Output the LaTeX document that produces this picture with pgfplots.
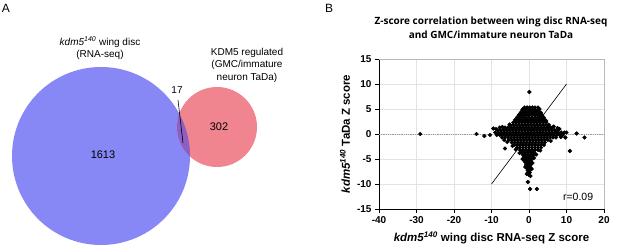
\documentclass[border=0pt]{standalone}
\usepackage{pgfplots}
\pgfplotsset{compat=1.18}
\usepackage{fontspec}
\setmainfont{Liberation Sans}
\newfontfamily\titlefont{Open Sans}
\definecolor{vblue}{RGB}{135,135,245}
\definecolor{vred}{RGB}{240,133,143}
\definecolor{vpurp}{RGB}{140,95,195}
\pgfplotstableread{
x y
-1.2 5.3
-0.5 5.3
0.2 5.3
0.9 5.3
1.6 5.3
2.4 5.3
-1.6 5.0
2.8 5.0
-1.8 4.8
-1.1 4.8
-0.4 4.8
0.3 4.8
1.0 4.8
1.7 4.8
2.4 4.8
-2.2 4.3
-1.5 4.3
-0.8 4.3
-0.1 4.3
0.6 4.3
1.3 4.3
2.0 4.3
2.7 4.3
3.1 4.3
-2.7 3.8
-2.0 3.8
-1.3 3.8
-0.6 3.8
0.1 3.8
0.8 3.8
1.5 3.8
2.2 3.8
2.9 3.8
3.5 3.8
-3.2 3.3
-2.4 3.3
-1.6 3.3
-0.8 3.3
0 3.3
0.8 3.3
1.6 3.3
2.4 3.3
3.2 3.3
3.9 3.3
-3.7 2.8
-2.9 2.8
-2.1 2.8
-1.3 2.8
-0.5 2.8
0.3 2.8
1.1 2.8
1.9 2.8
2.7 2.8
3.5 2.8
4.3 2.8
-4.2 2.3
-3.4 2.3
-2.6 2.3
-1.8 2.3
-1.0 2.3
-0.2 2.3
0.6 2.3
1.4 2.3
2.2 2.3
3.0 2.3
3.8 2.3
4.6 2.3
-5.0 1.8
-4.2 1.8
-3.4 1.8
-2.6 1.8
-1.8 1.8
-1.0 1.8
-0.2 1.8
0.6 1.8
1.4 1.8
2.2 1.8
3.0 1.8
3.8 1.8
4.6 1.8
5.3 1.8
-6.4 1.3
-5.6 1.3
-4.8 1.3
-4.0 1.3
-3.2 1.3
-2.4 1.3
-1.6 1.3
-0.8 1.3
0 1.3
0.8 1.3
1.6 1.3
2.4 1.3
3.2 1.3
4.0 1.3
4.8 1.3
5.6 1.3
6.2 1.3
-8.4 0.8
-7.6 0.8
-6.8 0.8
-6.0 0.8
-5.2 0.8
-4.4 0.8
-3.6 0.8
-2.8 0.8
-2.0 0.8
-1.2 0.8
-0.4 0.8
0.4 0.8
1.2 0.8
2.0 0.8
2.8 0.8
3.6 0.8
4.4 0.8
5.2 0.8
6.0 0.8
6.8 0.8
7.5 0.8
-9.0 0.3
-8.2 0.3
-7.4 0.3
-6.6 0.3
-5.8 0.3
-5.0 0.3
-4.2 0.3
-3.4 0.3
-2.6 0.3
-1.8 0.3
-1.0 0.3
-0.2 0.3
0.6 0.3
1.4 0.3
2.2 0.3
3.0 0.3
3.8 0.3
4.6 0.3
5.4 0.3
6.2 0.3
7.0 0.3
7.8 0.3
8.6 0.3
9.4 0.3
-8.6 -0.2
-7.8 -0.2
-7.0 -0.2
-6.2 -0.2
-5.4 -0.2
-4.6 -0.2
-3.8 -0.2
-3.0 -0.2
-2.2 -0.2
-1.4 -0.2
-0.6 -0.2
0.2 -0.2
1.0 -0.2
1.8 -0.2
2.6 -0.2
3.4 -0.2
4.2 -0.2
5.0 -0.2
5.8 -0.2
6.6 -0.2
7.4 -0.2
8.2 -0.2
9.0 -0.2
-7.2 -0.7
-6.4 -0.7
-5.6 -0.7
-4.8 -0.7
-4.0 -0.7
-3.2 -0.7
-2.4 -0.7
-1.6 -0.7
-0.8 -0.7
0 -0.7
0.8 -0.7
1.6 -0.7
2.4 -0.7
3.2 -0.7
4.0 -0.7
4.8 -0.7
5.6 -0.7
6.4 -0.7
7.2 -0.7
-5.4 -1.2
-4.6 -1.2
-3.8 -1.2
-3.0 -1.2
-2.2 -1.2
-1.4 -1.2
-0.6 -1.2
0.2 -1.2
1.0 -1.2
1.8 -1.2
2.6 -1.2
3.4 -1.2
4.2 -1.2
5.0 -1.2
-4.6 -1.7
-3.8 -1.7
-3.0 -1.7
-2.2 -1.7
-1.4 -1.7
-0.6 -1.7
0.2 -1.7
1.0 -1.7
1.8 -1.7
2.6 -1.7
3.4 -1.7
4.2 -1.7
-4.0 -2.2
-3.2 -2.2
-2.4 -2.2
-1.6 -2.2
-0.8 -2.2
0 -2.2
0.8 -2.2
1.6 -2.2
2.4 -2.2
3.2 -2.2
4.0 -2.2
-3.2 -2.7
-2.4 -2.7
-1.6 -2.7
-0.8 -2.7
0 -2.7
0.8 -2.7
1.6 -2.7
2.4 -2.7
3.2 -2.7
-2.4 -3.2
-1.6 -3.2
-0.8 -3.2
0 -3.2
0.8 -3.2
1.6 -3.2
2.4 -3.2
-1.9 -3.7
-1.1 -3.7
-0.3 -3.7
0.5 -3.7
1.3 -3.7
-1.6 -4.2
-0.9 -4.2
-0.2 -4.2
0.5 -4.2
1.1 -4.2
-1.3 -4.7
-0.6 -4.7
0.1 -4.7
0.7 -4.7
-1.1 -5.2
-0.5 -5.2
0.1 -5.2
0.6 -5.2
-0.9 -5.7
-0.3 -5.7
0.3 -5.7
-0.8 -6.2
-0.2 -6.2
0.4 -6.2
-0.6 -6.7
0 -6.7
0.4 -6.7
-0.4 -7.2
0.2 -7.2
-0.3 -7.7
0.2 -7.7
0.0 -8.2
-8.8 1.0
-7.1 1.4
-6.6 -1.2
-5.8 -1.6
5.8 -1.4
6.6 1.5
8.1 1.0
9.7 -0.7
-3.5 -3.1
3.0 -3.3
-2.5 -3.8
1.9 -4.1
1.3 -4.8
-1.7 -5.0
0.9 -5.8
-1.0 -6.6
0.7 -7.0
-0.6 -8.0
0.4 -8.4
-29 0
-14 0
-11.9 -0.4
-10.4 -0.2
-9.5 1.1
-6.4 -2.9
-4.4 -2.4
-1.3 -5.3
0 -7.9
-0.3 -9.6
0.3 -11
2.1 -11
0.1 8.4
10.0 0.3
10.9 -3.4
12.7 0.1
14.8 -0.7
7.6 1.2
8.5 -0.6
4.6 2.6
-5.2 1.9
-7.8 1.3
}\zscores
\begin{document}
\begin{tikzpicture}
\path[use as bounding box] (0pt,0pt) rectangle (617pt,-248pt);
% ---------------- Panel A: Venn ----------------
\begin{axis}[at={(0pt,-248pt)}, anchor=south west, scale only axis,
  width=310pt, height=248pt, xmin=0, xmax=310, ymin=0, ymax=248,
  y dir=reverse, hide axis, clip=false]
  \fill[vblue] (axis cs:101,156) circle[radius=89];
  \fill[vred] (axis cs:217,127) circle[radius=40];
  \begin{scope}
    \clip (axis cs:101,156) circle[radius=89];
    \fill[vpurp] (axis cs:217,127) circle[radius=40];
  \end{scope}
  \draw[black, line width=0.6pt] (axis cs:178,100) -- (axis cs:183,143);
  \node[font=\fontsize{10}{12}\selectfont, align=center] at (axis cs:100,48)
    {\textit{kdm5\textsuperscript{140}} wing disc\\(RNA-seq)};
  \node[font=\fontsize{10}{12.5}\selectfont, align=center] at (axis cs:247,65)
    {KDM5 regulated\\(GMC/immature\\neuron TaDa)};
  \node[font=\fontsize{10}{12}\selectfont] at (axis cs:177,90) {17};
  \node[font=\fontsize{11}{12}\selectfont] at (axis cs:219,127) {302};
  \node[font=\fontsize{11}{12}\selectfont] at (axis cs:103,155) {1613};
\end{axis}
\node[font=\fontsize{12}{12}\selectfont] at (6pt,-8pt) {A};
\node[font=\fontsize{12}{12}\selectfont] at (329pt,-8pt) {B};
\node[font=\titlefont\bfseries\fontsize{10}{14.5}\selectfont, align=center] at (491pt,-28pt)
  {Z-score correlation between wing disc RNA-seq\\and GMC/immature neuron TaDa};
% ---------------- Panel B: scatter ----------------
\begin{axis}[at={(379pt,-209pt)}, anchor=south west, scale only axis,
  width=225pt, height=150pt,
  xmin=-40, xmax=20, ymin=-15, ymax=15,
  xtick={-40,-30,-20,-10,0,10,20}, xticklabels={-40,-30,-20,-10,0,10,20},
  ytick={-15,-10,-5,0,5,10,15}, yticklabels={-15,-10,-5,0,5,10,15},
  axis x line*=bottom, axis y line*=left,
  axis line style={-, black, line width=0.9pt},
  tick align=outside, major tick length=4pt,
  tick style={black, line width=0.8pt},
  grid=major, grid style={gray!22, line width=0.7pt},
  ticklabel style={font=\bfseries\fontsize{10}{10}\selectfont},
  xlabel={\textit{kdm5\textsuperscript{140}} wing disc RNA-seq Z score},
  ylabel={\textit{kdm5\textsuperscript{140}} TaDa Z score},
  label style={font=\bfseries\fontsize{11.5}{12}\selectfont},
  xlabel style={at={(axis description cs:0.5,-0.193)}, anchor=center},
  ylabel style={at={(axis description cs:-0.151,0.5)}, anchor=center},
  clip=false]
  \draw[gray!55, line width=0.7pt] (rel axis cs:0,1) -- (rel axis cs:1,1) -- (rel axis cs:1,0);
  \draw[gray!80, densely dotted, line width=0.8pt] (axis cs:-40,0) -- (axis cs:20,0);
  \addplot[only marks, mark=*, mark size=1.9pt, black, mark options={draw=black, fill=black}] table[x=x, y=y] {\zscores};
  \addplot[black, line width=0.6pt] coordinates {(-10,-10) (10,10)};
  \node[font=\fontsize{10.5}{11}\selectfont] at (axis cs:13.1,-12.6) {r=0.09};
\end{axis}
\end{tikzpicture}
\end{document}
